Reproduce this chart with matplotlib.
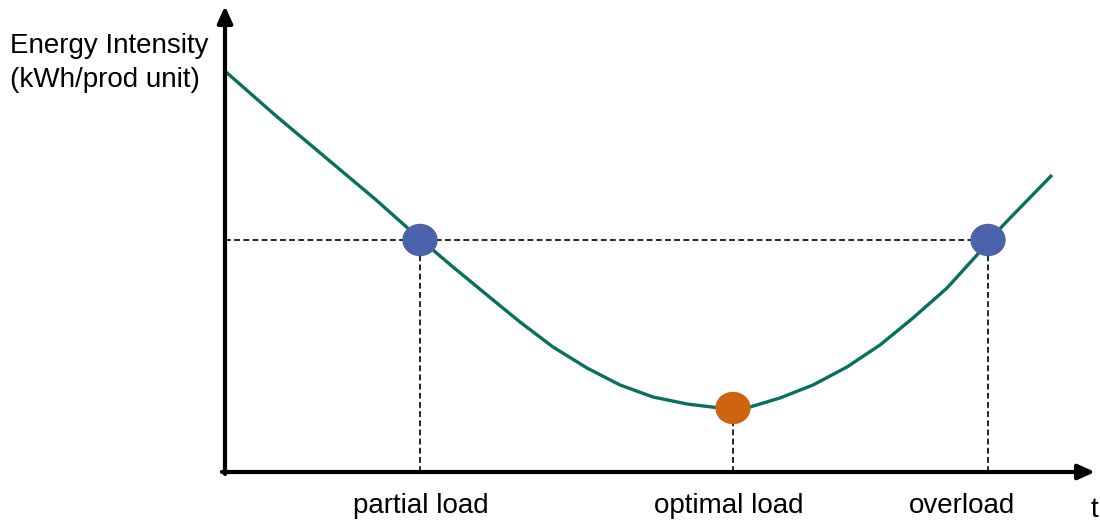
"""
Energy intensity vs. load: schematic curve with partial / optimal / overload points.
"""

import matplotlib.pyplot as plt
from matplotlib.patches import Ellipse

plt.rcParams["font.family"] = ["Liberation Sans", "DejaVu Sans"]

# curve (load, energy intensity)
curve_x = [1, 50, 100, 150, 195, 228, 262, 295, 328, 362, 395, 428, 462, 495, 508,
           525, 555, 588, 622, 655, 688, 722, 752, 764, 788, 827]
curve_y = [400, 357, 315, 273, 233, 205, 177, 150, 125, 104, 87, 75, 68, 64, 63,
           65, 74, 87, 105, 127, 154, 184, 217, 232, 257, 297]

# marked operating points
point_x = [195, 508, 763]
point_y = [232, 64, 232]
point_colors = ["#4A63AB", "#CF6410", "#4A63AB"]

labels = ["partial load", "optimal load", "overload"]
label_x = [196, 504, 737]

y_label = "Energy Intensity\n(kWh/prod unit)"
x_label = "t"

fig = plt.figure(figsize=(11, 5.25), dpi=100)
ax = fig.add_axes([0, 0, 1, 1])
ax.set_xlim(-225, 875)
ax.set_ylim(-53, 472)
ax.set_aspect("equal")
ax.axis("off")

# axes with arrows
arrow = dict(arrowstyle="-|>,head_length=1.0,head_width=0.45",
             lw=3, color="black", shrinkA=0, shrinkB=0)
ax.annotate("", xy=(870, 0), xytext=(-3, 0), arrowprops=arrow)
ax.annotate("", xy=(0, 466), xytext=(0, -2), arrowprops=arrow)

# dashed guide lines
ax.plot([0, max(point_x)], [point_y[0], point_y[2]], ls=(0, (3.5, 2)),
        color="black", lw=1.2, zorder=1)
for px, py in zip(point_x, point_y):
    ax.plot([px, px], [0, py], ls=(0, (3.5, 2)), color="black", lw=1.2, zorder=1)

ax.plot(curve_x, curve_y, color="#08705E", lw=2.4, solid_capstyle="butt",
        solid_joinstyle="round", zorder=2)

for px, py, c in zip(point_x, point_y, point_colors):
    ax.add_patch(Ellipse((px, py), 34, 31, color=c, zorder=3))

for lx, lab in zip(label_x, labels):
    ax.text(lx, -34, lab, ha="center", va="center", fontsize=20)

ax.text(-215, 409, y_label, ha="left", va="center", fontsize=20, linespacing=1.4)
ax.text(866, -38, x_label, ha="left", va="center", fontsize=20)

fig.savefig("out.png", dpi=100)
